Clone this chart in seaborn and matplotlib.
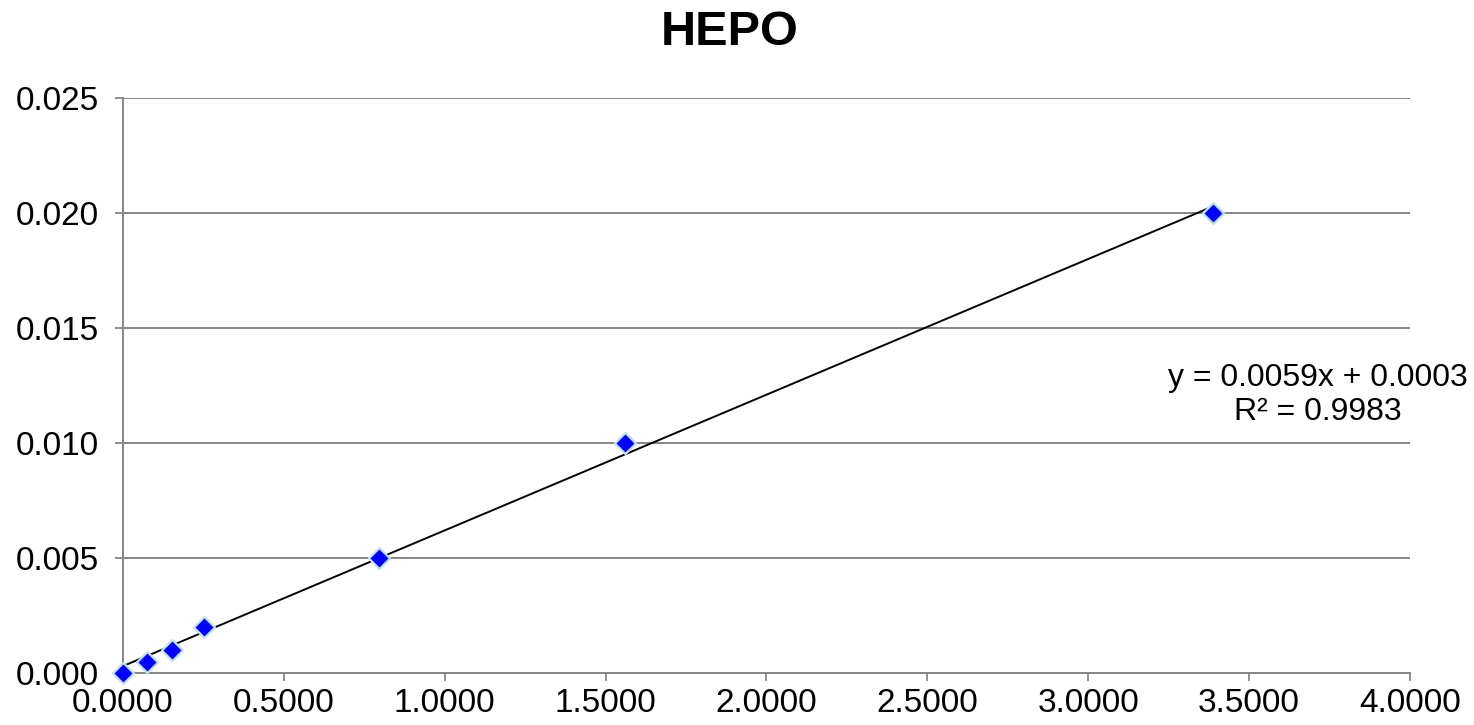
import numpy as np
import seaborn as sns
import matplotlib.pyplot as plt

# HEPO calibration points
x_vals = [0.0, 0.0746, 0.1520, 0.2520, 0.7960, 1.5600, 3.3880]
y_vals = [0.0, 0.0005, 0.0010, 0.0020, 0.0050, 0.0100, 0.0200]
slope, intercept = 0.0059, 0.0003
eq_text = 'y = 0.0059x + 0.0003\nR² = 0.9983'
x_ticks = [0.0, 0.5, 1.0, 1.5, 2.0, 2.5, 3.0, 3.5, 4.0]
y_ticks = [0.0, 0.005, 0.010, 0.015, 0.020, 0.025]

sns.set_style('white')
plt.rcParams['font.family'] = ['Liberation Sans', 'DejaVu Sans']
plt.rcParams['text.color'] = 'black'
plt.rcParams['xtick.labelcolor'] = 'black'
plt.rcParams['ytick.labelcolor'] = 'black'

fig = plt.figure(figsize=(14.74, 7.25), dpi=100)
ax = fig.add_axes([0.0834, 0.0717, 0.8731, 0.7931])

# trendline over the data range
line_x = np.array([min(x_vals), max(x_vals)])
sns.lineplot(x=line_x, y=slope * line_x + intercept, color='black', linewidth=1.4, ax=ax)
sns.scatterplot(x=x_vals, y=y_vals, marker='D', s=115, color='#0000ff',
                edgecolor='#bfe3ee', linewidth=1.6, ax=ax, zorder=3, clip_on=False)

ax.set_xlim(0, 4)
ax.set_ylim(0, 0.025)
ax.set_xticks(x_ticks)
ax.set_yticks(y_ticks)
ax.set_xticklabels([f'{v:.4f}' for v in x_ticks])
ax.set_yticklabels([f'{v:.3f}' for v in y_ticks])
ax.tick_params(axis='both', labelsize=24, length=6, width=1.3, color='#868686',
               labelcolor='black', direction='out', left=True, bottom=True)
ax.tick_params(axis='y', pad=11)
ax.tick_params(axis='x', pad=5)
ax.yaxis.grid(True, color='#868686', linewidth=1.4)
ax.set_axisbelow(True)
for side in ['top', 'right']:
    ax.spines[side].set_visible(False)
for side in ['left', 'bottom']:
    ax.spines[side].set_color('#868686')
    ax.spines[side].set_linewidth(1.4)

ax.text(3.714, 0.01209, eq_text, ha='center', va='center', fontsize=23,
        linespacing=1.2, color='black', clip_on=False)
fig.suptitle('HEPO', x=0.495, y=0.955, va='center', fontsize=35,
             fontweight='bold', color='black')

plt.savefig('out.png', dpi=100)
